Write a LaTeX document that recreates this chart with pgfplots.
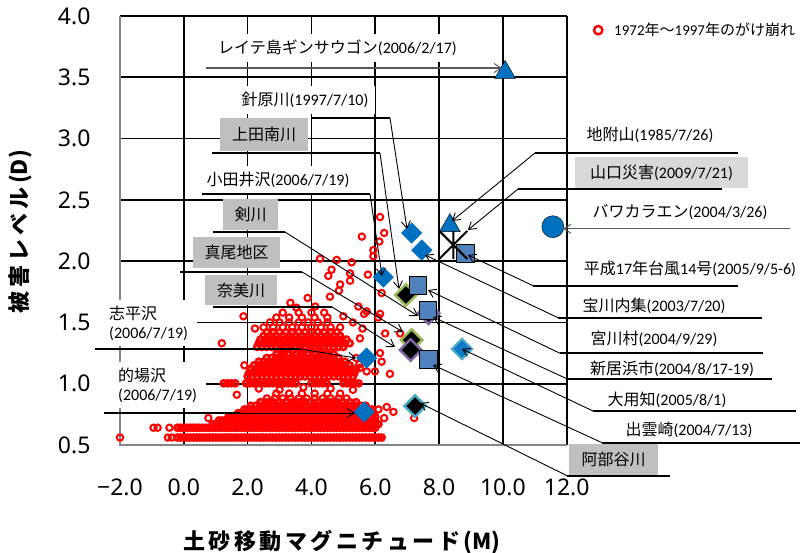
\documentclass[border=0pt]{standalone}
\usepackage{fontspec}
\setmainfont{Carlito}
\newfontfamily\jp{Noto Sans CJK JP}
\newfontfamily\ns{Noto Sans}
\usepackage{pgfplots}
\pgfplotsset{compat=1.18}
\usetikzlibrary{arrows.meta}
\definecolor{xblue}{HTML}{0070C0}
\definecolor{sqblue}{HTML}{4F81BD}
\definecolor{ogreen}{HTML}{9BBB59}
\definecolor{opurple}{HTML}{8064A2}
\definecolor{oaqua}{HTML}{4BACC6}
\definecolor{bgray}{HTML}{BFBFBF}
\definecolor{lgray}{HTML}{D9D9D9}
\definecolor{axgray}{HTML}{868686}
\definecolor{dblue}{HTML}{0E7CC6}
\definecolor{lngray}{HTML}{595959}
\tikzset{gl/.style={black, line width=1.6pt}}
\pgfdeclareplotmark{xstar}{%
 \pgfpathmoveto{\pgfqpoint{-\pgfplotmarksize}{-\pgfplotmarksize}}%
 \pgfpathlineto{\pgfqpoint{\pgfplotmarksize}{\pgfplotmarksize}}%
 \pgfpathmoveto{\pgfqpoint{-\pgfplotmarksize}{\pgfplotmarksize}}%
 \pgfpathlineto{\pgfqpoint{\pgfplotmarksize}{-\pgfplotmarksize}}%
 \pgfpathmoveto{\pgfqpoint{0pt}{-\pgfplotmarksize}}%
 \pgfpathlineto{\pgfqpoint{0pt}{\pgfplotmarksize}}%
 \pgfusepathqstroke}
\begin{document}
\begin{tikzpicture}
\useasboundingbox (0,0) rectangle (801pt,553pt);
\begin{axis}[
  at={(120pt,108pt)}, anchor=south west,
  scale only axis, width=446.7pt, height=429pt,
  xmin=-2, xmax=12, ymin=0.5, ymax=4,
  clip=false,
  xtick={-2,0,2,4,6,8,10,12},
  xticklabels={−2.0,0.0,2.0,4.0,6.0,8.0,10.0,12.0},
  ytick={0.5,1,1.5,2,2.5,3,3.5,4},
  yticklabels={0.5,1.0,1.5,2.0,2.5,3.0,3.5,4.0},
  major tick length=0pt,
  tick style={draw=none},
  axis line style={draw=none},
  ticklabel style={font=\ns\fontsize{23}{27}\selectfont},
  xticklabel shift=30pt,
  yticklabel shift=26pt,
  xlabel={\jp\bfseries 土\kern3.5pt 砂\kern3.5pt 移\kern3.5pt 動\kern3.5pt マ\kern3.5pt グ\kern3.5pt ニ\kern3.5pt チ\kern3.5pt ュ\kern3.5pt ー\kern3.5pt ド\kern3.5pt (M)},
  ylabel={\jp\bfseries 被\kern4pt 害\kern4pt レ\kern4pt ベ\kern4pt ル\kern4pt (D)},
  xlabel style={at={(axis description cs:0.497,-0.226)}, anchor=center, font=\fontsize{22}{26}\selectfont},
  ylabel style={at={(axis description cs:-0.224,0.4965)}, anchor=center, font=\fontsize{22}{26}\selectfont},
  legend style={at={(axis description cs:1.05,0.967)}, anchor=west, draw=none, fill=none, font=\fontsize{15}{18}\selectfont},
  legend image code/.code={\path[draw=none] (0pt,0pt) -- (20pt,0pt); \draw[red, line width=2.4pt, fill=none] (6pt,0pt) circle (4.2pt);},
]
% 1972-1997 slope failures: scattered points
\addplot[only marks, mark=o, mark size=3.2pt, red, line width=2pt, mark options={line width=2pt}] coordinates {
(-2.0,0.561) (-0.5,0.561) (-0.38,0.561)
(-0.95,0.641) (-0.82,0.641) (-0.45,0.641)
(2.6,0.88) (2.85,0.88) (3.1,0.88) (3.35,0.88) (3.6,0.88) (3.85,0.88) (4.1,0.88) (4.35,0.88) (4.6,0.88) (4.85,0.88) (5.1,0.88)
(1.66,0.91) (2.9,0.92) (3.3,0.92) (3.7,0.92) (4.1,0.92) (4.5,0.92) (4.9,0.92)
(0.77,0.72) (6.36,0.81) (6.57,0.77) (6.28,0.72) (7.22,0.72) (6.1,0.79)
(2.35,0.96) (3.0,0.95) (3.75,0.97) (4.6,0.96) (5.3,0.95)
(3.1,1.27) (3.4,1.27) (3.7,1.27) (4.0,1.27) (4.3,1.27)
(1.9,1.15) (5.5,1.16) (5.52,1.13) (5.73,1.10) (5.99,1.10) (6.2,1.18) (6.46,1.08) (6.15,1.25) (5.4,1.21) (1.19,1.33)
(2.5,1.46) (2.8,1.46) (3.1,1.46) (3.4,1.46) (3.7,1.46) (4.0,1.46) (4.3,1.46) (4.6,1.46) (4.9,1.46)
(2.7,1.50) (3.0,1.50) (3.3,1.50) (3.6,1.50) (3.9,1.50) (4.2,1.50) (4.5,1.50)
(2.9,1.54) (3.3,1.54) (3.7,1.54) (4.1,1.54) (4.5,1.54)
(3.1,1.58) (3.6,1.58) (4.0,1.58) (4.4,1.58)
(6.15,2.36) (6.28,2.23) (5.58,2.20) (6.13,2.16) (5.94,2.09) (5.94,2.04) (4.27,2.02) (4.79,2.01) (5.26,1.99) (4.63,1.93) (4.53,1.88) (5.21,1.90) (5.77,1.89) (4.90,1.81) (5.21,1.84) (4.86,1.76) (4.58,1.71) (3.88,1.70) (6.20,1.74) (3.34,1.66) (5.47,1.63) (4.12,1.63) (5.73,1.59) (6.15,1.57) (6.09,1.54) (5.65,1.57) (3.53,1.62) (1.87,1.55) (6.31,1.41) (6.78,1.41) (5.52,1.37) (2.23,1.45) (5.3,1.50) (5.0,1.55) (5.6,1.45)
};
\addlegendentry{1972{\jp 年～}1997{\jp 年のがけ崩れ}}
% 1972-1997 slope failures: densely packed points
\addplot[forget plot, only marks, mark=o, mark size=3pt, red, line width=2.6pt, mark options={line width=2.6pt}] coordinates {
(-0.2,0.561) (-0.1,0.561) (0,0.561) (0.1,0.561) (0.2,0.561) (0.3,0.561) (0.4,0.561) (0.5,0.561) (0.6,0.561) (0.7,0.561) (0.8,0.561) (0.9,0.561) (1,0.561) (1.1,0.561) (1.2,0.561) (1.3,0.561) (1.4,0.561) (1.5,0.561) (1.6,0.561) (1.7,0.561) (1.8,0.561) (1.9,0.561) (2,0.561) (2.1,0.561) (2.2,0.561) (2.3,0.561) (2.4,0.561) (2.5,0.561) (2.6,0.561) (2.7,0.561) (2.8,0.561) (2.9,0.561) (3,0.561) (3.1,0.561) (3.2,0.561) (3.3,0.561) (3.4,0.561) (3.5,0.561) (3.6,0.561) (3.7,0.561) (3.8,0.561) (3.9,0.561) (4,0.561) (4.1,0.561) (4.2,0.561) (4.3,0.561) (4.4,0.561) (4.5,0.561) (4.6,0.561) (4.7,0.561) (4.8,0.561) (4.9,0.561) (5,0.561) (5.1,0.561) (5.2,0.561) (5.3,0.561) (5.4,0.561) (5.5,0.561) (5.6,0.561) (5.7,0.561) (5.8,0.561) (5.9,0.561) (6,0.561) (6.1,0.561) (6.2,0.561)
(-0.2,0.641) (-0.1,0.641) (0,0.641) (0.1,0.641) (0.2,0.641) (0.3,0.641) (0.4,0.641) (0.5,0.641) (0.6,0.641) (0.7,0.641) (0.8,0.641) (0.9,0.641) (1,0.641) (1.1,0.641) (1.2,0.641) (1.3,0.641) (1.4,0.641) (1.5,0.641) (1.6,0.641) (1.7,0.641) (1.8,0.641) (1.9,0.641) (2,0.641) (2.1,0.641) (2.2,0.641) (2.3,0.641) (2.4,0.641) (2.5,0.641) (2.6,0.641) (2.7,0.641) (2.8,0.641) (2.9,0.641) (3,0.641) (3.1,0.641) (3.2,0.641) (3.3,0.641) (3.4,0.641) (3.5,0.641) (3.6,0.641) (3.7,0.641) (3.8,0.641) (3.9,0.641) (4,0.641) (4.1,0.641) (4.2,0.641) (4.3,0.641) (4.4,0.641) (4.5,0.641) (4.6,0.641) (4.7,0.641) (4.8,0.641) (4.9,0.641) (5,0.641) (5.1,0.641) (5.2,0.641) (5.3,0.641) (5.4,0.641) (5.5,0.641) (5.6,0.641) (5.7,0.641) (5.8,0.641) (5.9,0.641) (6,0.641)
(0.9,0.67) (1,0.67) (1.1,0.67) (1.2,0.67) (1.3,0.67) (1.4,0.67) (1.5,0.67) (1.6,0.67) (1.7,0.67) (1.8,0.67) (1.9,0.67) (2,0.67) (2.1,0.67) (2.2,0.67) (2.3,0.67) (2.4,0.67) (2.5,0.67) (2.6,0.67) (2.7,0.67) (2.8,0.67) (2.9,0.67) (3,0.67) (3.1,0.67) (3.2,0.67) (3.3,0.67) (3.4,0.67) (3.5,0.67) (3.6,0.67) (3.7,0.67) (3.8,0.67) (3.9,0.67) (4,0.67) (4.1,0.67) (4.2,0.67) (4.3,0.67) (4.4,0.67) (4.5,0.67) (4.6,0.67) (4.7,0.67) (4.8,0.67) (4.9,0.67) (5,0.67) (5.1,0.67) (5.2,0.67) (5.3,0.67) (5.4,0.67) (5.5,0.67) (5.6,0.67) (5.7,0.67) (5.8,0.67) (5.9,0.67) (6,0.67) (6.1,0.67)
(1.1,0.70) (1.2,0.70) (1.3,0.70) (1.4,0.70) (1.5,0.70) (1.6,0.70) (1.7,0.70) (1.8,0.70) (1.9,0.70) (2,0.70) (2.1,0.70) (2.2,0.70) (2.3,0.70) (2.4,0.70) (2.5,0.70) (2.6,0.70) (2.7,0.70) (2.8,0.70) (2.9,0.70) (3,0.70) (3.1,0.70) (3.2,0.70) (3.3,0.70) (3.4,0.70) (3.5,0.70) (3.6,0.70) (3.7,0.70) (3.8,0.70) (3.9,0.70) (4,0.70) (4.1,0.70) (4.2,0.70) (4.3,0.70) (4.4,0.70) (4.5,0.70) (4.6,0.70) (4.7,0.70) (4.8,0.70) (4.9,0.70) (5,0.70) (5.1,0.70) (5.2,0.70) (5.3,0.70) (5.4,0.70) (5.5,0.70) (5.6,0.70) (5.7,0.70) (5.8,0.70) (5.9,0.70) (6,0.70)
(1.4,0.73) (1.5,0.73) (1.6,0.73) (1.7,0.73) (1.8,0.73) (1.9,0.73) (2,0.73) (2.1,0.73) (2.2,0.73) (2.3,0.73) (2.4,0.73) (2.5,0.73) (2.6,0.73) (2.7,0.73) (2.8,0.73) (2.9,0.73) (3,0.73) (3.1,0.73) (3.2,0.73) (3.3,0.73) (3.4,0.73) (3.5,0.73) (3.6,0.73) (3.7,0.73) (3.8,0.73) (3.9,0.73) (4,0.73) (4.1,0.73) (4.2,0.73) (4.3,0.73) (4.4,0.73) (4.5,0.73) (4.6,0.73) (4.7,0.73) (4.8,0.73) (4.9,0.73) (5,0.73) (5.1,0.73) (5.2,0.73) (5.3,0.73) (5.4,0.73) (5.5,0.73) (5.6,0.73) (5.7,0.73) (5.8,0.73) (5.9,0.73) (6,0.73)
(1.7,0.76) (1.8,0.76) (1.9,0.76) (2,0.76) (2.1,0.76) (2.2,0.76) (2.3,0.76) (2.4,0.76) (2.5,0.76) (2.6,0.76) (2.7,0.76) (2.8,0.76) (2.9,0.76) (3,0.76) (3.1,0.76) (3.2,0.76) (3.3,0.76) (3.4,0.76) (3.5,0.76) (3.6,0.76) (3.7,0.76) (3.8,0.76) (3.9,0.76) (4,0.76) (4.1,0.76) (4.2,0.76) (4.3,0.76) (4.4,0.76) (4.5,0.76) (4.6,0.76) (4.7,0.76) (4.8,0.76) (4.9,0.76) (5,0.76) (5.1,0.76) (5.2,0.76) (5.3,0.76) (5.4,0.76) (5.5,0.76) (5.6,0.76) (5.7,0.76) (5.8,0.76) (5.9,0.76)
(1.9,0.79) (2,0.79) (2.1,0.79) (2.2,0.79) (2.3,0.79) (2.4,0.79) (2.5,0.79) (2.6,0.79) (2.7,0.79) (2.8,0.79) (2.9,0.79) (3,0.79) (3.1,0.79) (3.2,0.79) (3.3,0.79) (3.4,0.79) (3.5,0.79) (3.6,0.79) (3.7,0.79) (3.8,0.79) (3.9,0.79) (4,0.79) (4.1,0.79) (4.2,0.79) (4.3,0.79) (4.4,0.79) (4.5,0.79) (4.6,0.79) (4.7,0.79) (4.8,0.79) (4.9,0.79) (5,0.79) (5.1,0.79) (5.2,0.79) (5.3,0.79) (5.4,0.79) (5.5,0.79) (5.6,0.79) (5.7,0.79) (5.8,0.79) (5.9,0.79)
(2.1,0.82) (2.25,0.82) (2.4,0.82) (2.55,0.82) (2.7,0.82) (2.85,0.82) (3,0.82) (3.15,0.82) (3.3,0.82) (3.45,0.82) (3.6,0.82) (3.75,0.82) (3.9,0.82) (4.05,0.82) (4.2,0.82) (4.35,0.82) (4.5,0.82) (4.65,0.82) (4.8,0.82) (4.95,0.82) (5.1,0.82) (5.25,0.82) (5.4,0.82) (5.55,0.82) (5.7,0.82)
(2.4,0.85) (2.6,0.85) (2.8,0.85) (3,0.85) (3.2,0.85) (3.4,0.85) (3.6,0.85) (3.8,0.85) (4,0.85) (4.2,0.85) (4.4,0.85) (4.6,0.85) (4.8,0.85) (5,0.85) (5.2,0.85) (5.4,0.85)
(1.25,1.003) (1.37,1.003) (1.49,1.003) (1.61,1.003) (1.95,1.003) (2.07,1.003) (2.19,1.003) (2.31,1.003) (2.43,1.003) (2.55,1.003) (2.67,1.003) (2.79,1.003) (2.91,1.003) (3.03,1.003) (3.15,1.003) (3.27,1.003) (3.39,1.003) (3.51,1.003) (4.0,1.003) (4.12,1.003) (4.24,1.003) (4.36,1.003) (4.48,1.003) (5.0,1.003) (5.12,1.003) (5.24,1.003) (5.36,1.003) (5.48,1.003)
(2.0,1.06) (2.15,1.06) (2.3,1.06) (2.45,1.06) (2.6,1.06) (2.75,1.06) (2.9,1.06) (3.05,1.06) (3.2,1.06) (3.35,1.06) (3.5,1.06) (3.65,1.06) (3.8,1.06) (3.95,1.06) (4.1,1.06) (4.25,1.06) (4.4,1.06) (4.55,1.06) (4.7,1.06) (4.85,1.06) (5.0,1.06) (5.15,1.06) (5.3,1.06)
(2.05,1.09) (2.2,1.09) (2.35,1.09) (2.5,1.09) (2.65,1.09) (2.8,1.09) (2.95,1.09) (3.1,1.09) (3.25,1.09) (3.4,1.09) (3.55,1.09) (3.7,1.09) (3.85,1.09) (4.0,1.09) (4.15,1.09) (4.3,1.09) (4.45,1.09) (4.6,1.09) (4.75,1.09) (4.9,1.09) (5.05,1.09) (5.2,1.09) (5.35,1.09)
(2.1,1.12) (2.25,1.12) (2.4,1.12) (2.55,1.12) (2.7,1.12) (2.85,1.12) (3.0,1.12) (3.15,1.12) (3.3,1.12) (3.45,1.12) (3.6,1.12) (3.75,1.12) (3.9,1.12) (4.05,1.12) (4.2,1.12) (4.35,1.12) (4.5,1.12) (4.65,1.12) (4.8,1.12) (4.95,1.12) (5.1,1.12) (5.25,1.12) (5.4,1.12)
(2.2,1.15) (2.35,1.15) (2.5,1.15) (2.65,1.15) (2.8,1.15) (2.95,1.15) (3.1,1.15) (3.25,1.15) (3.4,1.15) (3.55,1.15) (3.7,1.15) (3.85,1.15) (4.0,1.15) (4.15,1.15) (4.3,1.15) (4.45,1.15) (4.6,1.15) (4.75,1.15) (4.9,1.15) (5.05,1.15) (5.2,1.15)
(2.35,1.18) (2.5,1.18) (2.65,1.18) (2.8,1.18) (2.95,1.18) (3.1,1.18) (3.25,1.18) (3.4,1.18) (3.55,1.18) (3.7,1.18) (3.85,1.18) (4.0,1.18) (4.15,1.18) (4.3,1.18) (4.45,1.18) (4.6,1.18) (4.75,1.18) (4.9,1.18) (5.05,1.18)
(2.6,1.21) (2.75,1.21) (2.9,1.21) (3.05,1.21) (3.2,1.21) (3.35,1.21) (3.5,1.21) (3.65,1.21) (3.8,1.21) (3.95,1.21) (4.1,1.21) (4.25,1.21) (4.4,1.21) (4.55,1.21) (4.7,1.21) (4.85,1.21)
(2.9,1.24) (3.1,1.24) (3.3,1.24) (3.5,1.24) (3.7,1.24) (3.9,1.24) (4.1,1.24) (4.3,1.24) (4.5,1.24) (4.7,1.24)
(2.3,1.30) (2.45,1.30) (2.6,1.30) (2.75,1.30) (2.9,1.30) (3.05,1.30) (3.2,1.30) (3.35,1.30) (3.5,1.30) (3.65,1.30) (3.8,1.30) (3.95,1.30) (4.1,1.30) (4.25,1.30) (4.4,1.30) (4.55,1.30) (4.7,1.30) (4.85,1.30) (5.0,1.30)
(2.35,1.33) (2.5,1.33) (2.65,1.33) (2.8,1.33) (2.95,1.33) (3.1,1.33) (3.25,1.33) (3.4,1.33) (3.55,1.33) (3.7,1.33) (3.85,1.33) (4.0,1.33) (4.15,1.33) (4.3,1.33) (4.45,1.33) (4.6,1.33) (4.75,1.33) (4.9,1.33) (5.05,1.33) (5.2,1.33)
(2.4,1.36) (2.55,1.36) (2.7,1.36) (2.85,1.36) (3.0,1.36) (3.15,1.36) (3.3,1.36) (3.45,1.36) (3.6,1.36) (3.75,1.36) (3.9,1.36) (4.05,1.36) (4.2,1.36) (4.35,1.36) (4.5,1.36) (4.65,1.36) (4.8,1.36) (4.95,1.36) (5.1,1.36)
(2.5,1.39) (2.7,1.39) (2.9,1.39) (3.1,1.39) (3.3,1.39) (3.5,1.39) (3.7,1.39) (3.9,1.39) (4.1,1.39) (4.3,1.39) (4.5,1.39) (4.7,1.39) (4.9,1.39)
(2.6,1.42) (2.8,1.42) (3.0,1.42) (3.2,1.42) (3.4,1.42) (3.6,1.42) (3.8,1.42) (4.0,1.42) (4.2,1.42) (4.4,1.42) (4.6,1.42) (4.8,1.42)
};
% grid lines (drawn over the red cloud, under the other markers)
\draw[gl] (axis cs:0,0.5) -- (axis cs:0,4);
\draw[gl] (axis cs:2,0.5) -- (axis cs:2,4);
\draw[gl] (axis cs:4,0.5) -- (axis cs:4,4);
\draw[gl] (axis cs:6,0.5) -- (axis cs:6,4);
\draw[gl] (axis cs:8,0.5) -- (axis cs:8,4);
\draw[gl] (axis cs:10,0.5) -- (axis cs:10,4);
\draw[gl] (axis cs:12,0.5) -- (axis cs:12,4);
\draw[gl] (axis cs:-2,1) -- (axis cs:12,1);
\draw[gl] (axis cs:-2,1.5) -- (axis cs:12,1.5);
\draw[gl] (axis cs:-2,2) -- (axis cs:12,2);
\draw[gl] (axis cs:-2,2.5) -- (axis cs:12,2.5);
\draw[gl] (axis cs:-2,3) -- (axis cs:12,3);
\draw[gl] (axis cs:-2,3.5) -- (axis cs:12,3.5);
\draw[gl] (axis cs:-2,4) -- (axis cs:12,4);
% black diamonds with coloured outlines
\addplot[forget plot, only marks, mark=square*, mark size=7.6pt, mark options={rotate=45, fill=black, draw=ogreen, line width=2.5pt}] coordinates {(6.96,1.724) (7.14,1.357)};
\addplot[forget plot, only marks, mark=square*, mark size=7.6pt, mark options={rotate=45, fill=black, draw=opurple, line width=2.5pt}] coordinates {(7.67,1.575) (7.11,1.275)};
\addplot[forget plot, only marks, mark=square*, mark size=7.6pt, mark options={rotate=45, fill=black, draw=oaqua, line width=2.5pt}] coordinates {(7.25,0.818)};
% blue diamonds
\addplot[forget plot, only marks, mark=square*, mark size=7.3pt, mark options={rotate=45, fill=xblue, draw=xblue, line width=0.3pt}] coordinates {(7.14,2.23) (7.46,2.09) (6.25,1.87) (5.73,1.21) (5.65,0.77)};
\addplot[forget plot, only marks, mark=square*, mark size=7.2pt, mark options={rotate=45, fill=dblue, draw=oaqua, line width=2pt}] coordinates {(8.72,1.283)};
% squares
\addplot[forget plot, only marks, mark=square*, mark size=8.8pt, mark options={fill=sqblue, draw=none}] coordinates {(8.81,2.064) (7.33,1.805) (7.64,1.601) (7.66,1.199)};
% triangles
\addplot[forget plot, only marks, mark=triangle*, mark size=12pt, mark options={fill=xblue, draw=none}] coordinates {(10.07,3.54) (8.34,2.29)};
% circle
\addplot[forget plot, only marks, mark=*, mark size=11pt, mark options={fill=xblue, draw=none}] coordinates {(11.565,2.281)};
% star
\addplot[forget plot, only marks, mark=xstar, mark size=14pt, mark options={draw=black, line width=2pt}] coordinates {(8.447,2.132)};
\draw[axgray, line width=2.6pt] (rel axis cs:0,1) -- (rel axis cs:0,0) -- (rel axis cs:1,0);
\end{axis}
\begin{scope}[x=1pt, y=-1pt, yshift=553pt,
  wl/.style={fill=white, inner xsep=7pt, inner ysep=6pt, font=\fontsize{16}{19}\selectfont},
  gb/.style={fill=#1, inner sep=0pt, font=\fontsize{16}{19}\selectfont},
  lead/.style={line width=1.8pt, black},
  arr/.style={line width=0.9pt, black, -{Straight Barb[length=7pt,width=9pt,line width=0.9pt]}},
  garr/.style={line width=1.3pt, lngray, -{Straight Barb[length=7pt,width=9pt,line width=1pt]}}]
% text boxes
\node[wl] at (337.5,48) {{\jp レイテ島ギンサウゴン}(2006/2/17)};
\node[wl] at (305,100) {{\jp 針原川}(1997/7/10)};
\node[wl] at (278,180) {{\jp 小田井沢}(2006/7/19)};
\node[wl, anchor=west, align=left, inner xsep=9pt] at (100,323) {{\jp 志平沢}\\(2006/7/19)};
\node[wl, anchor=west, align=left, inner xsep=9pt] at (109,385) {{\jp 的場沢}\\(2006/7/19)};
\node[gb=bgray, minimum width=88pt, minimum height=33pt] at (264,134.5) {\jp 上田南川};
\node[gb=bgray, minimum width=55pt, minimum height=31pt] at (250.5,214.5) {\jp 剣川};
\node[gb=bgray, minimum width=87pt, minimum height=31pt] at (236.5,252.5) {\jp 真尾地区};
\node[gb=bgray, minimum width=72pt, minimum height=30pt] at (241,290) {\jp 奈美川};
\node[gb=bgray, minimum width=89pt, minimum height=31pt] at (613.5,459.5) {\jp 阿部谷川};
\node[gb=lgray, minimum width=173pt, minimum height=31pt] at (661.5,172.5) {{\jp 山口災害}(2009/7/21)};
\node[wl] at (650,135) {{\jp 地附山}(1985/7/26)};
\node[wl] at (680,212) {{\jp バワカラエン}(2004/3/26)};
\node[wl] at (690,269) {{\jp 平成}17{\jp 年台風}14{\jp 号}(2005/9/5-6)};
\node[wl] at (654,306) {{\jp 宝川内集}(2003/7/20)};
\node[wl] at (654,339) {{\jp 宮川村}(2004/9/29)};
\node[wl] at (672,369) {{\jp 新居浜市}(2004/8/17-19)};
\node[wl] at (667,399.5) {{\jp 大用知}(2005/8/1)};
\node[wl] at (689,429.5) {{\jp 出雲崎}(2004/7/13)};
% leader lines
\draw[lead] (311,118) -- (390,118);
\draw[lead] (212,153) -- (380,153);
\draw[lead] (202,194) -- (370,194);
\draw[lead] (213,232) -- (285,232);
\draw[lead] (180,272) -- (302,272);
\draw[lead] (213,306.7) -- (331.7,306.7);
\draw[lead] (95,349) -- (300,349);
\draw[lead] (104,413) -- (240,413);
\draw[lead] (535,153) -- (738,153);
\draw[lead] (518,189) -- (722,189);
\draw[lead] (533,285.7) -- (738,285.7);
\draw[lead] (558,317.7) -- (762,317.7);
\draw[lead] (560,353.3) -- (763,353.3);
\draw[lead] (568,379.3) -- (772,379.3);
\draw[lead] (593,411) -- (796,411);
\draw[lead] (602,442.7) -- (800,442.7);
\draw[lead] (567,475.7) -- (670,475.7);
% arrows
\draw[garr] (206,68) -- (502,68);
\draw[garr] (790,228.7) -- (563,228.7);
\draw[arr] (390,118) -- (407,229);
\draw[arr] (380,153) -- (399,289);
\draw[arr] (370,194) -- (382,276);
\draw[arr] (285,232) -- (418,316);
\draw[arr] (302,272) -- (403,332);
\draw[arr] (331.7,306.7) -- (395,347);
\draw[arr] (300,349) -- (356,358);
\draw[arr] (240,413) -- (355,413);
\draw[arr] (535,153) -- (452,221);
\draw[arr] (518,189) -- (468,230);
\draw[arr] (533,285.7) -- (468,255);
\draw[arr] (558,317.7) -- (425,255);
\draw[arr] (560,353.3) -- (428,290);
\draw[arr] (568,379.3) -- (433,317);
\draw[arr] (593,411) -- (462,349);
\draw[arr] (602,442.7) -- (433,365);
\draw[arr] (567,475.7) -- (420,403);
\end{scope}
\end{tikzpicture}
\end{document}
